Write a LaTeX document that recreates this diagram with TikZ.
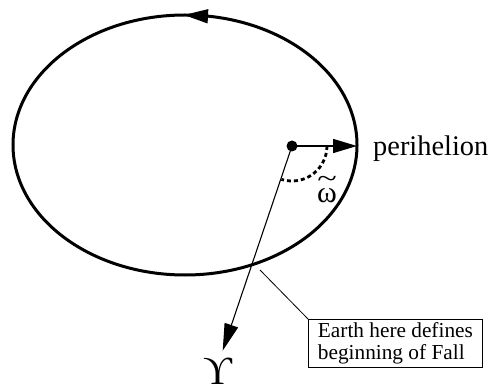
\documentclass[tikz,border=0pt]{standalone}
\usepackage{fontspec}
\setmainfont{Liberation Serif}
\usetikzlibrary{arrows.meta}
\tikzset{
  bigtip/.style={-{Triangle[length=24pt,width=14pt]}},
  orbit/.style={line width=3pt},
  leader/.style={line width=0.8pt},
}
\begin{document}
\begin{tikzpicture}[x=1pt,y=-1pt]
\useasboundingbox (0,0) rectangle (492,387);
% orbit
\draw[orbit] (185,145) ellipse [x radius=172, y radius=130];
\coordinate (t1) at (214,16.6);
\coordinate (t2) at (184,15);
\draw[line width=1.5pt, bigtip] (t1) -- (t2);
% focus
\node[circle, fill=black, inner sep=0pt, minimum size=11pt] (f) at (292,146) {};
\coordinate (p) at (357,146);
\draw[line width=1.5pt, bigtip] (f.center) -- (p);
\coordinate (ar) at (222.7,350.7);
\draw[line width=1.1pt, {-Triangle[length=27pt,width=14pt]}] (f.center) -- (ar);
% dashed angle
\draw[line width=2.8pt, dash pattern=on 4pt off 3pt] ([shift={(0:35)}]f.center) arc[start angle=0, end angle=-107.6, x radius=35, y radius=-35];
% labels
\node[anchor=base west, inner sep=0pt, font=\fontsize{28.4}{30}\selectfont] (peri) at (373,156) {perihelion};
\node[anchor=base, inner sep=0pt, font=\fontsize{30}{30}\selectfont] (om) at (327,203) {ω};
\node[anchor=south, inner sep=0pt, yshift=1.5pt, font=\fontsize{30}{30}\selectfont] (tl) at (om.north) {\scalebox{1.2}[0.9]{\textasciitilde}};
\node[anchor=south, inner sep=0pt, font=\fontsize{40}{40}\selectfont] (aries) at (217.5,385) {ϒ};
\node[draw, line width=0.8pt, anchor=north west, minimum width=174pt, minimum height=48pt, inner xsep=8pt, align=left, font=\fontsize{21.3}{22}\selectfont] (box) at (308,319) {Earth here defines\\beginning of Fall};
\coordinate (e) at (260,270);
\draw[leader] (e) -- (box.north west);
\end{tikzpicture}
\end{document}
